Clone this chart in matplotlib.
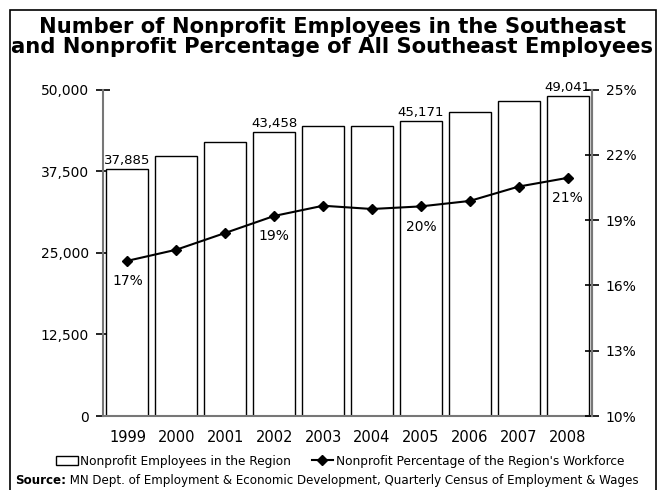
import matplotlib
matplotlib.use("Agg")
import matplotlib.pyplot as plt
from matplotlib.patches import Rectangle
from matplotlib.lines import Line2D

plt.rcParams['font.family'] = ['DejaVu Sans']

years = ['1999', '2000', '2001', '2002', '2003', '2004', '2005', '2006', '2007', '2008']
employees = [37885, 39800, 41900, 43458, 44420, 44480, 45171, 46500, 48240, 49041]
pct = [17.13, 17.64, 18.41, 19.19, 19.66, 19.51, 19.63, 19.88, 20.54, 20.94]
bar_labels = {0: '37,885', 3: '43,458', 6: '45,171', 9: '49,041'}
pct_labels = {0: '17%', 3: '19%', 6: '20%', 9: '21%'}
left_ticks = [0, 12500, 25000, 37500, 50000]
left_tick_labels = ['0', '12,500', '25,000', '37,500', '50,000']
right_ticks = [10, 13, 16, 19, 22, 25]
right_tick_labels = ['10%', '13%', '16%', '19%', '22%', '25%']

W, H = 661, 490
fig = plt.figure(figsize=(W / 100, H / 100), dpi=100)
ax = fig.add_axes([103 / W, 1 - 416 / H, (592 - 103) / W, (416 - 89.5) / H])

x = list(range(len(years)))
ax.bar(x, employees, width=0.86, facecolor='white', edgecolor='black', linewidth=1.0, zorder=2)
ax.set_xlim(-0.5, len(years) - 0.5)
ax.set_ylim(0, 50000)
ax.set_yticks(left_ticks)
ax.set_yticklabels(left_tick_labels, fontsize=10)
ax.set_xticks(x)
ax.set_xticklabels(years, fontsize=10.5)
ax.tick_params(axis='x', length=0, pad=10)
ax.tick_params(axis='y', direction='inout', length=10, width=1.2, pad=5)
ax.spines['top'].set_visible(False)
for s in ['left', 'bottom', 'right']:
    ax.spines[s].set_color('#777777')
    ax.spines[s].set_linewidth(1.5)
ax.patch.set_visible(False)

for i, lab in bar_labels.items():
    ax.annotate(lab, (x[i], employees[i]), xytext=(0, 1.5), textcoords='offset points',
                ha='center', va='bottom', fontsize=9.5)

ax2 = ax.twinx()
ax2.set_position(ax.get_position())
ax2.plot(x, pct, color='black', linewidth=1.5, marker='D', markersize=5, zorder=3)
ax2.set_ylim(10, 25)
ax2.set_yticks(right_ticks)
ax2.set_yticklabels(right_tick_labels, fontsize=10)
ax2.tick_params(axis='y', direction='inout', length=10, width=1.2, pad=5)
for s in ['top', 'left', 'bottom']:
    ax2.spines[s].set_visible(False)
ax2.spines['right'].set_color('#777777')
ax2.spines['right'].set_linewidth(1.5)
for i, lab in pct_labels.items():
    ax2.annotate(lab, (x[i], pct[i]), xytext=(0, -9.5), textcoords='offset points',
                 ha='center', va='top', fontsize=10)

fig.text(0.503, 1 - 33 / H, 'Number of Nonprofit Employees in the Southeast',
         ha='center', va='baseline', fontsize=15.2, fontweight='bold')
fig.text(0.503, 1 - 53 / H, 'and Nonprofit Percentage of All Southeast Employees',
         ha='center', va='baseline', fontsize=15.2, fontweight='bold')

handles = [Rectangle((0, 0), 1, 1, facecolor='white', edgecolor='black', linewidth=1.0),
           Line2D([0], [0], color='black', linewidth=1.5, marker='D', markersize=5)]
fig.legend(handles, ["Nonprofit Employees in the Region", "Nonprofit Percentage of the Region's Workforce"],
           loc='center', bbox_to_anchor=(340 / W, 1 - 461 / H), ncol=2, frameon=False,
           fontsize=8.7, handlelength=1.8, handletextpad=0.2, columnspacing=1.7,
           borderpad=0, borderaxespad=0)

t1 = fig.text(15 / W, 1 - 480 / H, 'Source:', ha='left', va='center', fontsize=8.55, fontweight='bold')
plt.annotate(' MN Dept. of Employment & Economic Development, Quarterly Census of Employment & Wages',
             xy=(1, 0), xycoords=t1, va='bottom', ha='left', fontsize=8.55,
             annotation_clip=False)

fig.patches.append(Rectangle((10 / W, -0.05), (656 - 10) / W, 1 - 10 / H + 0.05,
                             transform=fig.transFigure, fill=False, edgecolor='black',
                             linewidth=1.2))

fig.savefig('out.png', dpi=100)
